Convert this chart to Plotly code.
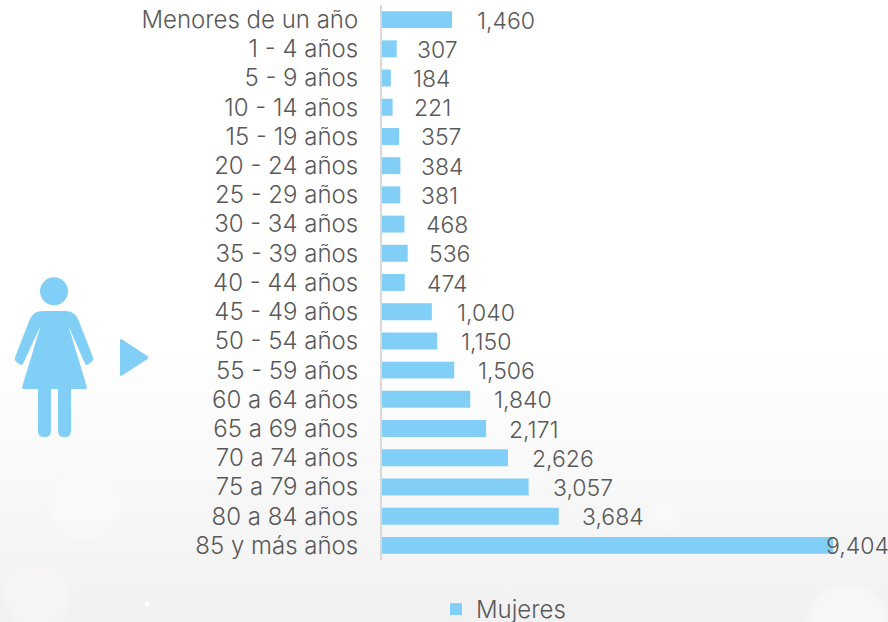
import base64
import plotly.graph_objects as go

categories = ["Menores de un año", "1 - 4 años", "5 - 9 años", "10 - 14 años", "15 - 19 años",
              "20 - 24 años", "25 - 29 años", "30 - 34 años", "35 - 39 años", "40 - 44 años",
              "45 - 49 años", "50 - 54 años", "55 - 59 años", "60 a 64 años", "65 a 69 años",
              "70 a 74 años", "75 a 79 años", "80 a 84 años", "85 y más años"]
mujeres = [1460, 307, 184, 221, 357, 384, 381, 468, 536, 474, 1040, 1150, 1506, 1840, 2171, 2626, 3057, 3684, 9404]
label_gap = [23, 18, 20, 19, 20, 19, 19, 20, 19, 20, 23, 22, 22, 22, 21, 22, 22, 21, -9]

W, H = 888, 622
L, T, B = 382, 5, 62
PW, PH = W - L, H - T - B
BLUE = "#81cff6"
TEXT = "#595959"
FONT = "Inter"
FS = 23
FS_CAT = 24

bg = f'''<svg xmlns="http://www.w3.org/2000/svg" width="{W}" height="{H}" viewBox="0 0 {W} {H}">
<defs><linearGradient id="g" x1="0" y1="0" x2="0" y2="1">
<stop offset="0" stop-color="#ffffff"/><stop offset="0.55" stop-color="#ffffff"/>
<stop offset="0.78" stop-color="#f8f8f8"/><stop offset="1" stop-color="#f1f1f1"/></linearGradient>
<filter id="b"><feGaussianBlur stdDeviation="3"/></filter></defs>
<rect width="{W}" height="{H}" fill="url(#g)"/>
<g filter="url(#b)">
<circle cx="85" cy="505" r="36" fill="#ffffff" fill-opacity="0.25"/>
<circle cx="38" cy="597" r="32" fill="#fbfaf6" fill-opacity="0.5"/>
<circle cx="848" cy="625" r="40" fill="#ffffff" fill-opacity="0.4"/>
<circle cx="665" cy="516" r="16" fill="#ffffff" fill-opacity="0.25"/>
</g>
<circle cx="147" cy="604" r="2.5" fill="#ffffff" fill-opacity="0.9"/>
</svg>'''
bg_uri = "data:image/svg+xml;base64," + base64.b64encode(bg.encode()).decode()

fig = go.Figure(go.Bar(x=mujeres, y=categories, orientation="h", name="Mujeres",
                       marker=dict(color=BLUE, line_width=0), width=0.58, showlegend=True))

annotations = [dict(x=v, y=c, text=f"{v:,}", xref="x", yref="y", xanchor="left", xshift=g, yshift=-1,
                    showarrow=False, font=dict(family=FONT, size=FS, color=TEXT, weight=300))
               for c, v, g in zip(categories, mujeres, label_gap)]

fig.update_layout(
    width=W, height=H, autosize=False,
    margin=dict(l=L, r=0, t=T, b=B, autoexpand=False),
    paper_bgcolor="rgba(0,0,0,0)", plot_bgcolor="rgba(0,0,0,0)",
    font=dict(family=FONT, color=TEXT, size=FS),
    images=[dict(source=bg_uri, xref="paper", yref="paper", x=-L/PW, y=1+T/PH,
                 sizex=W/PW, sizey=H/PH, xanchor="left", yanchor="top", sizing="stretch", layer="below")],
    xaxis=dict(range=[0, 10550], visible=False, fixedrange=True),
    yaxis=dict(categoryorder="array", categoryarray=categories[::-1], showgrid=False, zeroline=False,
               range=[-0.5, len(categories) - 0.5],
               tickmode="array", tickvals=categories, ticktext=categories, fixedrange=True,
               showline=True, linecolor="#d9d9d9", linewidth=2, ticks="", ticklabelstandoff=17,
               tickfont=dict(family=FONT, size=FS_CAT, color=TEXT, weight=300), automargin=False),
    legend=dict(x=(W/2-8-L)/PW, y=-(587-(H-B))/PH, xanchor="left", yanchor="top", orientation="h",
                font=dict(family=FONT, size=FS_CAT, color=TEXT, weight=300), bgcolor="rgba(0,0,0,0)", itemwidth=30),
    annotations=annotations,
)

def X(p): return (p - L) / PW
def Y(p): return 1 - (p - T) / PH

def rounded(pts):
    """pts: (x, y, corner radius) in page pixels -> closed SVG path in paper coordinates."""
    n = len(pts)
    out = []
    for i, (x, y, r) in enumerate(pts):
        px, py, _ = pts[i - 1]
        nx, ny, _ = pts[(i + 1) % n]
        d1 = max(((px - x) ** 2 + (py - y) ** 2) ** 0.5, 1e-6)
        d2 = max(((nx - x) ** 2 + (ny - y) ** 2) ** 0.5, 1e-6)
        a = (x + (px - x) * min(r, d1 / 2) / d1, y + (py - y) * min(r, d1 / 2) / d1)
        b = (x + (nx - x) * min(r, d2 / 2) / d2, y + (ny - y) * min(r, d2 / 2) / d2)
        out.append(("M" if i == 0 else "L") + f"{X(a[0]):.5f},{Y(a[1]):.5f}")
        out.append(f"Q{X(x):.5f},{Y(y):.5f} {X(b[0]):.5f},{Y(b[1]):.5f}")
    return " ".join(out) + " Z"

def icon(pts):
    fig.add_shape(type="path", xref="paper", yref="paper", path=rounded(pts), fillcolor=BLUE, line_width=0)

fig.add_shape(type="circle", xref="paper", yref="paper", x0=X(40), x1=X(68), y0=Y(305.3), y1=Y(277.3),
              fillcolor=BLUE, line_width=0)
icon([(33, 311, 10), (75, 311, 10), (94, 360, 3), (86, 366, 3), (68.5, 326, 0.5), (87.5, 389, 3),
      (21.5, 389, 3), (40.5, 326, 0.5), (22, 366, 3), (14, 360, 3)])
icon([(38, 386, 0), (51, 386, 0), (51, 437, 6), (38, 437, 6)])
icon([(58, 386, 0), (71, 386, 0), (71, 437, 6), (58, 437, 6)])
icon([(120, 338, 3), (149.5, 357.5, 3), (120, 377, 3)])

fig.write_html("out.html", config=dict(displayModeBar=False),
               post_script="document.body.style.margin='0';document.body.style.overflow='hidden';")
